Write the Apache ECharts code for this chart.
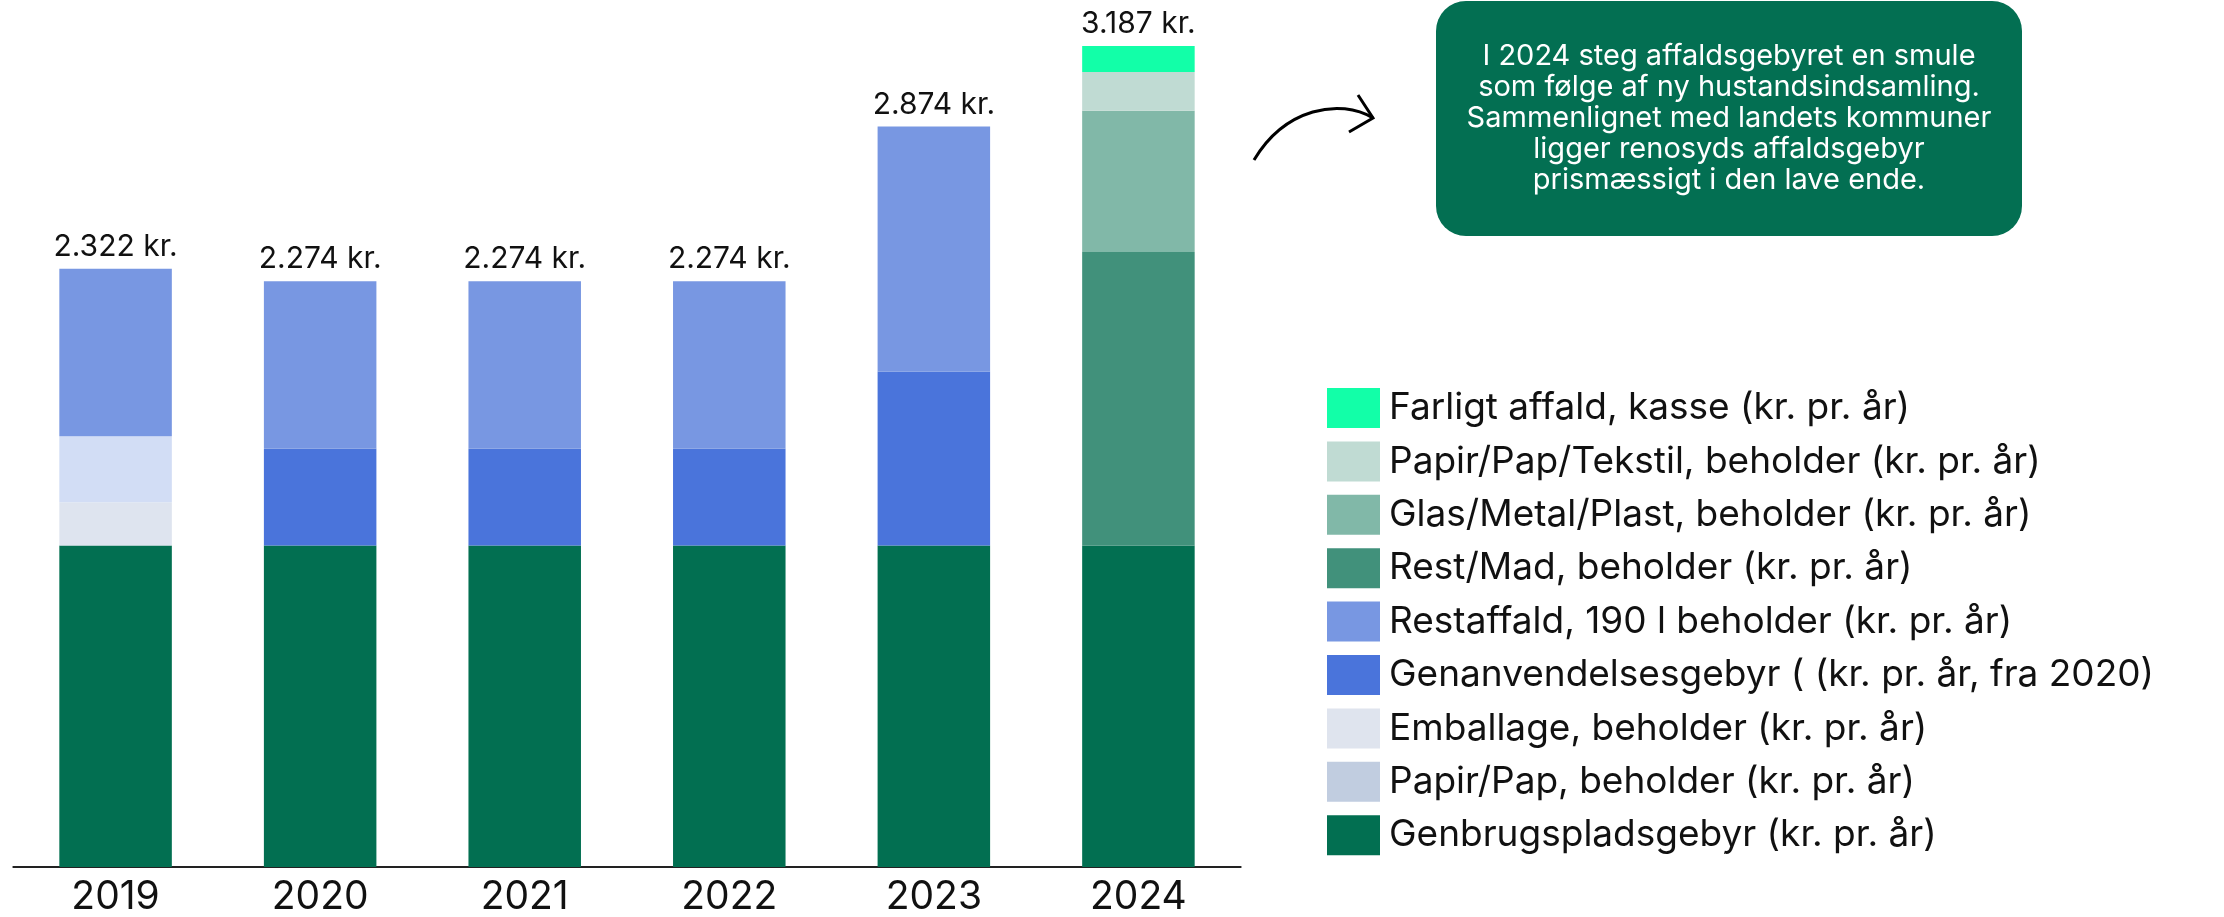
<!DOCTYPE html>
<html>
<head>
<meta charset="utf-8">
<title>Affaldsgebyr</title>
<script src="https://cdn.jsdelivr.net/npm/echarts@6/dist/echarts.min.js"></script>
<style>
  html, body { margin: 0; padding: 0; background: #fff; }
  #chart { width: 2224px; height: 917px; }
</style>
</head>
<body>
<div id="chart"></div>
<script>
// data (kr. pr. år)
const years = ['2019', '2020', '2021', '2022', '2023', '2024'];
const genbrugsplads = [1248, 1248, 1248, 1248, 1248, 1248];
const papirPap = [168, 0, 0, 0, 0, 0];
const emballage = [256, 0, 0, 0, 0, 0];
const genanvendelse = [0, 375, 375, 375, 675, 0];
const restaffald = [650, 651, 651, 651, 951, 0];
const restMad = [0, 0, 0, 0, 0, 1139];
const glasMetalPlast = [0, 0, 0, 0, 0, 548];
const papirPapTekstil = [0, 0, 0, 0, 0, 151];
const farligtAffald = [0, 0, 0, 0, 0, 101];
const totals = [2322, 2274, 2274, 2274, 2874, 3187];

const note = 'I 2024 steg affaldsgebyret en smule\nsom følge af ny hustandsindsamling.\nSammenlignet med landets kommuner\nligger renosyds affaldsgebyr\nprismæssigt i den lave ende.';

const FONT = 'Inter, "Noto Sans", sans-serif';

// stack order bottom -> top
const stackDefs = [
  { name: 'Genbrugspladsgebyr (kr. pr. år)', data: genbrugsplads, color: '#026f51' },
  { name: 'Papir/Pap, beholder (kr. pr. år)', data: papirPap, color: '#dee4ef' },
  { name: 'Emballage, beholder (kr. pr. år)', data: emballage, color: '#d2ddf5' },
  { name: 'Genanvendelsesgebyr ( (kr. pr. år, fra 2020)', data: genanvendelse, color: '#4a74db' },
  { name: 'Restaffald, 190 l beholder (kr. pr. år)', data: restaffald, color: '#7897e2' },
  { name: 'Rest/Mad, beholder (kr. pr. år)', data: restMad, color: '#41917b' },
  { name: 'Glas/Metal/Plast, beholder (kr. pr. år)', data: glasMetalPlast, color: '#81b8a8' },
  { name: 'Papir/Pap/Tekstil, beholder (kr. pr. år)', data: papirPapTekstil, color: '#c0dbd3' },
  { name: 'Farligt affald, kasse (kr. pr. år)', data: farligtAffald, color: '#12ffa8' }
];

// legend colours that differ from the bar fill
const legendColor = {
  'Papir/Pap, beholder (kr. pr. år)': '#c1cde0',
  'Emballage, beholder (kr. pr. år)': '#dfe4ee'
};

const series = stackDefs.map(s => ({
  name: s.name,
  type: 'bar',
  stack: 'total',
  barWidth: '55%',
  itemStyle: { color: s.color },
  data: s.data
}));

// transparent bar carrying the total label
series.push({
  name: 'Total',
  type: 'bar',
  barWidth: '55%',
  barGap: '-100%',
  z: 1,
  itemStyle: { color: 'rgba(0,0,0,0)' },
  label: {
    show: true,
    position: 'top',
    distance: 7,
    color: '#111',
    fontFamily: FONT,
    fontSize: 30,
    formatter: p => p.value.toLocaleString('da-DK') + ' kr.'
  },
  data: totals
});

const chart = echarts.init(document.getElementById('chart'));
chart.setOption({
  animation: false,
  grid: { left: 13.3, right: 983.3, top: 42.6, bottom: 47 },
  xAxis: {
    type: 'category',
    data: years,
    axisTick: { show: false },
    axisLine: { lineStyle: { color: '#222', width: 2 } },
    axisLabel: { color: '#111', fontFamily: FONT, fontSize: 39, margin: 11 }
  },
  yAxis: {
    type: 'value',
    min: 0,
    max: 3200,
    show: false,
    splitLine: { show: false }
  },
  legend: {
    orient: 'vertical',
    left: 1322,
    top: 383,
    itemWidth: 53,
    itemHeight: 40,
    itemGap: 13.4,
    icon: 'rect',
    textStyle: { fontFamily: FONT, fontSize: 37, color: '#111', lineHeight: 40, padding: [0, 0, 0, 4] },
    data: stackDefs.slice().reverse().map(s => legendColor[s.name]
      ? { name: s.name, itemStyle: { color: legendColor[s.name] } }
      : s.name)
  },
  series: series,
  graphic: [
    {
      type: 'rect',
      shape: { x: 1436, y: 1, width: 586, height: 235, r: 30 },
      style: { fill: '#036f52' }
    },
    {
      type: 'text',
      x: 1729,
      y: 118,
      style: {
        text: note,
        fill: '#fff',
        font: '29px ' + FONT,
        lineHeight: 31,
        align: 'center',
        verticalAlign: 'middle'
      }
    },
    {
      // arrow pointing at the note
      type: 'bezierCurve',
      shape: { x1: 1254, y1: 160, x2: 1373, y2: 118, cpx1: 1285, cpy1: 108, cpx2: 1340, cpy2: 98 },
      style: { stroke: '#000', lineWidth: 3, fill: 'none' }
    },
    {
      type: 'polyline',
      shape: { points: [[1358, 95], [1373, 118], [1349, 132]] },
      style: { stroke: '#000', lineWidth: 3, fill: 'none' }
    }
  ]
});
</script>
</body>
</html>
